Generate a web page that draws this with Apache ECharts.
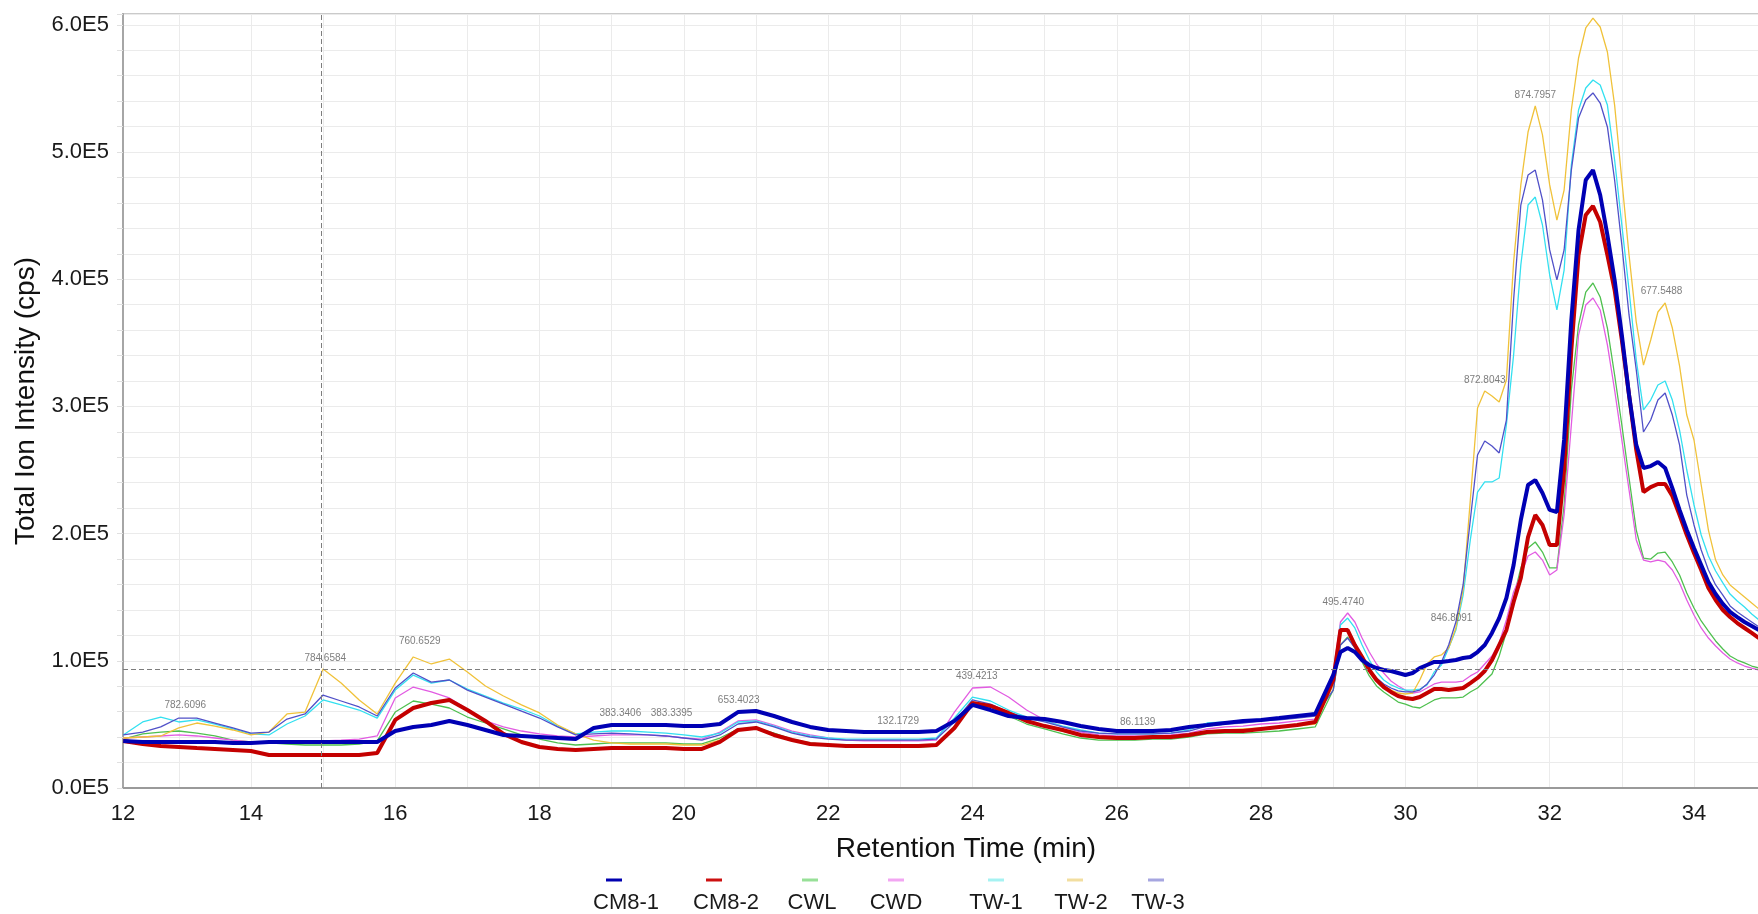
<!DOCTYPE html>
<html>
<head>
<meta charset="utf-8">
<title>Total Ion Chromatogram</title>
<script src="https://cdn.jsdelivr.net/npm/echarts@6.0.0/dist/echarts.min.js"></script>
<style>
  html, body { margin: 0; padding: 0; background: #ffffff; }
  #chart { width: 1758px; height: 914px; }
</style>
</head>
<body>
<div id="chart"></div>
<script>
// Retention time sampling points (min)
const rt = [
  12.23, 12.5, 12.75, 13, 13.25, 13.5, 13.75, 14, 14.25, 14.5, 14.75, 15, 15.25, 15.5, 15.75,
  16, 16.25, 16.5, 16.75, 17, 17.25, 17.5, 17.75, 18, 18.25, 18.5, 18.75, 19, 19.25, 19.5, 19.75,
  20, 20.25, 20.5, 20.75, 21, 21.25, 21.5, 21.75, 22, 22.25, 22.5, 22.75, 23, 23.25, 23.5, 23.75,
  24, 24.25, 24.5, 24.75, 25, 25.25, 25.5, 25.75, 26, 26.25, 26.5, 26.75, 27, 27.25, 27.5, 27.75,
  28, 28.25, 28.5, 28.75, 29,
  29.1, 29.2, 29.3, 29.4, 29.5, 29.6, 29.7, 29.8, 29.9,
  30, 30.1, 30.2, 30.3, 30.4, 30.5, 30.6, 30.7, 30.8, 30.9,
  31, 31.1, 31.2, 31.3, 31.4, 31.5, 31.6, 31.7, 31.8, 31.9,
  32, 32.1, 32.2, 32.3, 32.4, 32.5, 32.6, 32.7, 32.8, 32.9,
  33, 33.1, 33.2, 33.3, 33.4, 33.5, 33.6, 33.7, 33.8, 33.9,
  34, 34.1, 34.2, 34.3, 34.4, 34.5, 34.6, 34.7, 34.8, 34.9
];

// Total ion intensity (cps) per sample
const cm81 = [
  37000, 36200, 36200, 36200, 36200, 36200, 35400, 35400, 36200, 36200, 36200, 36200, 36200, 36200, 36200,
  44800, 48000, 49500, 52700, 49500, 45600, 41700, 40900, 40100, 39300, 38500, 47200, 49500, 49500, 49500, 49500,
  48700, 48700, 50300, 59700, 60500, 56600, 51900, 48000, 45600, 44800, 44000, 44000, 44000, 44000, 44800, 52700,
  65300, 61300, 56600, 55000, 54200, 51900, 48700, 46400, 44800, 44800, 44800, 45600, 48000, 49500, 51100, 52700,
  53500, 55000, 56600, 58200, 88800,
  106900, 110100, 106900, 100600, 96700, 94300, 92800, 92000, 90400,
  88800, 90400, 94300, 96700, 99100, 99100, 99800, 100600, 102200, 103000,
  106900, 112400, 121900, 133600, 149400, 175300, 210700, 238200, 242100, 231900,
  218600, 217000, 273600, 367900, 438700, 478000, 485800, 466200, 434700, 399400,
  356100, 309000, 269700, 251600, 253100, 256300, 251600, 235800, 218600, 202800,
  188700, 175300, 162000, 152500, 144700, 138400, 134400, 130500, 127400, 124200
];
const cm82 = [
  37000, 34600, 33000, 32200, 31400, 30700, 29900, 29100, 25900, 25900, 25900, 25900, 25900, 25900, 27500,
  53500, 62900, 66800, 69200, 61300, 52700, 42500, 36200, 32200, 30700, 29900, 30700, 31400, 31400, 31400, 31400,
  30700, 30700, 36200, 45600, 47200, 41700, 37700, 34600, 33800, 33000, 33000, 33000, 33000, 33000, 33800, 47200,
  66800, 64500, 59000, 52700, 48700, 45600, 41700, 40100, 39300, 39300, 40100, 40100, 41700, 44000, 44800, 44800,
  46400, 48000, 49500, 51900, 84900,
  124200, 124200, 112400, 103000, 92800, 84900, 79400, 75500, 72300,
  70800, 70000, 71500, 74700, 77800, 77800, 77000, 77800, 78600, 82500,
  86500, 92000, 100600, 112400, 124200, 146200, 165100, 197300, 214600, 206800,
  191000, 191000, 250000, 344300, 419000, 450500, 457500, 445000, 419000, 391500,
  352200, 309000, 265700, 232700, 236600, 239000, 239000, 229600, 214600, 198900,
  184700, 171400, 157200, 147800, 139900, 134400, 129700, 125800, 121900, 117900
];
const cwl = [
  38500, 42500, 44000, 44800, 43200, 40900, 37700, 36200, 35400, 34600, 33800, 33800, 33800, 34600, 37000,
  59700, 68400, 66000, 62900, 55800, 51100, 46400, 41700, 38500, 35400, 33800, 34600, 35400, 35400, 35400, 35400,
  34600, 34600, 39300, 46400, 47200, 43200, 38500, 35400, 33800, 33000, 32200, 32200, 32200, 32200, 33000, 47200,
  66800, 63700, 56600, 50300, 46400, 42500, 39300, 37700, 37700, 37700, 38500, 38500, 40100, 42500, 43200, 43200,
  44000, 44800, 46400, 48000, 77000,
  112400, 118700, 110100, 99100, 88100, 80200, 75500, 71500, 67600,
  66000, 63700, 62900, 66000, 69200, 70800, 70800, 70800, 71500, 75500,
  78600, 84100, 89600, 103800, 122600, 149400, 173000, 188700, 193400, 185500,
  173000, 173000, 222500, 312900, 364000, 389900, 397000, 386000, 361600, 324700,
  285400, 243700, 202800, 180800, 180000, 184700, 185500, 177700, 167500, 153300,
  141500, 131300, 123400, 115600, 109300, 103800, 100600, 98300, 95900, 94300
];
const cwd = [
  39300, 40100, 40900, 41700, 40900, 39300, 37700, 36200, 36200, 36200, 37000, 37000, 37700, 38500, 40900,
  70800, 79400, 75500, 70800, 62100, 52700, 48000, 44800, 42500, 40900, 40100, 40900, 41700, 41700, 41700, 40900,
  39300, 38500, 44000, 52700, 53500, 49500, 44800, 41700, 39300, 37700, 37000, 37000, 37000, 37000, 37700, 59700,
  78600, 79400, 71500, 61300, 53500, 48000, 44000, 41700, 40900, 40900, 40900, 41700, 43200, 46400, 48000, 48700,
  50300, 51100, 52700, 54200, 91200,
  130500, 137600, 130500, 117900, 106900, 97500, 90400, 84100, 80200,
  77000, 74700, 75500, 78600, 81800, 83300, 83300, 83300, 84100, 88100,
  91200, 97500, 103800, 114000, 132100, 154100, 167500, 182400, 185500, 179200,
  167500, 171400, 214600, 285400, 356100, 379700, 385200, 375800, 348300, 312900,
  273600, 234300, 195000, 179200, 177700, 179200, 177700, 171400, 161200, 147800,
  136000, 125800, 117900, 111600, 106100, 101400, 98300, 95900, 94300, 92800
];
const tw1 = [
  41700, 51900, 55800, 51900, 53500, 50300, 46400, 42500, 41700, 50300, 56600, 69200, 65300, 61300, 55000,
  77000, 88800, 82500, 84900, 77800, 72300, 66800, 62100, 56600, 48700, 42500, 44000, 44800, 44800, 44000, 43200,
  41700, 40100, 43200, 51900, 52700, 48700, 44000, 40900, 39300, 38500, 38500, 38500, 38500, 38500, 39300, 55000,
  71500, 68400, 61300, 55800, 52700, 48700, 45600, 43200, 42500, 42500, 42500, 43200, 45600, 51100, 51900, 52700,
  54200, 55000, 56600, 59000, 84900,
  128100, 133600, 125800, 112400, 100600, 91200, 84900, 81000, 78600,
  77000, 77000, 77800, 81000, 91200, 96700, 110100, 124200, 151700, 195000,
  232700, 240600, 240600, 243700, 285400, 340400, 411200, 458300, 464600, 442600,
  403300, 375800, 407200, 489800, 533000, 550300, 556600, 552700, 536900, 493700,
  442600, 391500, 336500, 297200, 305000, 316800, 320000, 305000, 281400, 250000,
  222500, 198900, 182400, 170600, 161200, 152500, 147000, 142300, 136800, 132100
];
const tw2 = [
  39300, 40100, 40900, 47200, 51100, 48700, 45600, 41700, 44000, 58200, 59700, 93600, 82500, 69200, 58200,
  82500, 103000, 97500, 101400, 91200, 80200, 72300, 65300, 59000, 49500, 42500, 37700, 35400, 34600, 34600, 34600,
  33800, 33800, 37700, 45600, 46400, 41700, 37700, 34600, 33800, 33000, 33000, 33000, 33000, 33000, 33800, 48000,
  66800, 64500, 58200, 52700, 48700, 44800, 40900, 39300, 38500, 38500, 39300, 40100, 42500, 44800, 45600, 46400,
  47200, 48000, 48700, 50300, 81000,
  122600, 124200, 112400, 102200, 92800, 85700, 80200, 77000, 74700,
  73900, 74700, 84900, 97500, 103000, 104600, 110100, 125800, 155700, 226400,
  298700, 312100, 308200, 303500, 320800, 413500, 474100, 515700, 536200, 513400,
  474100, 446500, 470100, 533000, 573900, 597500, 605300, 598300, 578600, 536900,
  478000, 419000, 366300, 332500, 352200, 374200, 381300, 361600, 331800, 293200,
  273600, 238200, 202800, 179200, 167500, 159600, 154900, 150200, 145400, 140700
];
const tw3 = [
  41700, 44000, 48000, 55000, 55000, 51100, 47200, 43200, 44000, 54200, 58200, 73100, 68400, 63700, 56600,
  78600, 90400, 83300, 84900, 77000, 71500, 66000, 60500, 55000, 48000, 41700, 42500, 43200, 42500, 41700, 40900,
  39300, 37700, 41700, 50300, 51900, 48000, 43200, 40100, 38500, 37700, 37700, 37700, 37700, 37700, 38500, 51900,
  69200, 66000, 59700, 55000, 51900, 48000, 44800, 43200, 42500, 42500, 42500, 43200, 44800, 48700, 50300, 51100,
  52700, 53500, 55000, 56600, 77000,
  112400, 117900, 110100, 100600, 92800, 86500, 81800, 78600, 76300,
  75500, 75500, 77000, 81800, 88800, 99100, 112400, 130500, 159600, 210700,
  261800, 272800, 268900, 263400, 289300, 383600, 458300, 481900, 485800, 462300,
  423000, 399400, 423000, 485800, 526700, 540900, 546400, 538500, 519700, 478000,
  426900, 371900, 328600, 279900, 289300, 305000, 310500, 293200, 269700, 230300,
  206800, 187100, 171400, 159600, 151700, 143100, 138400, 134400, 130500, 126600
];

// Annotated peaks: retention time, label anchor intensity, m/z text
const peakRt  = [13.09, 15.03, 16.34, 19.12, 19.83, 20.76, 22.97, 24.06, 26.29, 29.14, 30.64, 31.10, 31.80, 33.55];
const peakInt = [64700, 102200, 115000, 59000, 59000, 69200, 52700, 87500, 51900, 145700, 133400, 320800, 544300, 390700];
const peakMz  = ['782.6096', '784.6584', '760.6529', '383.3406', '383.3395', '653.4023', '132.1729',
                 '439.4213', '86.1139', '495.4740', '846.8091', '872.8043', '874.7957', '677.5488'];

// Cursor cross-hair position
const cursorRt = 14.98;
const cursorLevel = 93500;

// Axis ranges and tick labels
const xMin = 12.227, xMax = 35.594;
const yMax = 608500;
const xLabelValues = [xMin, 14, 16, 18, 20, 22, 24, 26, 28, 30, 32, 34];
const xGridValues = [13, 14, 15, 16, 17, 18, 19, 20, 21, 22, 23, 24, 25, 26, 27, 28, 29, 30, 31, 32, 33, 34, 35];
const yLabelValues = [0, 100000, 200000, 300000, 400000, 500000, 600000];

const FONT = "'Liberation Sans', Arial, sans-serif";

// Drawing order: thin traces first, the two CM8 traces on top
const traces = [
  { name: 'CWL',   values: cwl,  color: '#4fc04f', width: 1.3 },
  { name: 'CWD',   values: cwd,  color: '#e25ce2', width: 1.3 },
  { name: 'TW-1',  values: tw1,  color: '#33e0f0', width: 1.3 },
  { name: 'TW-2',  values: tw2,  color: '#f0c23a', width: 1.3 },
  { name: 'TW-3',  values: tw3,  color: '#5050c8', width: 1.3 },
  { name: 'CM8-2', values: cm82, color: '#c40000', width: 4 },
  { name: 'CM8-1', values: cm81, color: '#0000b4', width: 4 }
];

// Legend order and swatch look (swatch sits above the name)
const legendOrder = ['CM8-1', 'CM8-2', 'CWL', 'CWD', 'TW-1', 'TW-2', 'TW-3'];
const legendSwatch = ['#0000b0', '#cc1010', '#98e098', '#f2a6f2', '#a6f2f2', '#f2dea0', '#a6a6e0'];
const legendCenterX = [625, 725, 811, 895, 995, 1080, 1157];
const legendSwatchShift = [12, 12, 2, 0, 0, 6, 2];

const chart = echarts.init(document.getElementById('chart'), null, { renderer: 'canvas' });

const series = traces.map(t => ({
  type: 'line',
  name: t.name,
  data: rt.map((x, i) => [x, t.values[i]]),
  showSymbol: false,
  symbol: 'none',
  lineStyle: { color: t.color, width: t.width },
  itemStyle: { color: t.color },
  emphasis: { disabled: true },
  animation: false
}));

// dashed cursor lines
series[series.length - 1].markLine = {
  silent: true,
  symbol: 'none',
  label: { show: false },
  lineStyle: { type: [5, 3], color: '#7d7d7d', width: 1 },
  data: [{ xAxis: cursorRt }, { yAxis: cursorLevel }]
};

// peak m/z annotations
series.push({
  type: 'scatter',
  name: 'peaks',
  data: peakMz.map((m, i) => ({ name: m, value: [peakRt[i], peakInt[i]] })),
  symbolSize: 0,
  silent: true,
  z: 5,
  label: {
    show: true,
    position: 'inside',
    formatter: '{b}',
    fontSize: 10,
    fontFamily: FONT,
    color: '#5c5c5c'
  }
});

const legends = legendOrder.map((name, i) => {
  const rich = {
    tx: { fontSize: 22, fontFamily: FONT, color: '#1a1a1a', lineHeight: 34, width: 80, align: 'center' }
  };
  rich['ic' + i] = { width: 16, height: 3, backgroundColor: legendSwatch[i], lineHeight: 12, align: 'center' };
  rich['sp' + i] = { width: legendSwatchShift[i] * 2, height: 3, lineHeight: 12, align: 'center' };
  return {
    data: [name],
    left: legendCenterX[i] - 45,
    top: 874,
    padding: 0,
    itemWidth: 0,
    itemHeight: 0,
    itemGap: 0,
    formatter: n => `{ic${i}|}{sp${i}|}\n{tx|${n}}`,
    textStyle: { rich: rich }
  };
});

chart.setOption({
  backgroundColor: '#ffffff',
  animation: false,
  legend: legends,
  grid: {
    left: 123, right: -51, top: 14, bottom: 126,
    show: true, borderColor: '#cacaca', borderWidth: 2,
    containLabel: false, outerBoundsMode: 'none'
  },
  xAxis: {
    type: 'value', min: xMin, max: xMax,
    name: 'Retention Time (min)', nameLocation: 'middle', nameGap: 47,
    nameTextStyle: { fontSize: 28, color: '#111111', fontFamily: FONT },
    axisLine: { show: true, onZero: false, lineStyle: { color: '#9a9a9a', width: 2 } },
    axisTick: { show: false, customValues: xGridValues },
    axisLabel: {
      customValues: xLabelValues,
      formatter: v => String(Math.round(v)),
      fontSize: 22, color: '#1a1a1a', margin: 15, fontFamily: FONT
    },
    splitLine: { show: true, lineStyle: { color: '#ebebeb', width: 1 } }
  },
  yAxis: {
    type: 'value', min: 0, max: yMax, interval: 20000,
    name: 'Total Ion Intensity (cps)', nameLocation: 'middle', nameGap: 79, nameRotate: 90,
    nameTextStyle: { fontSize: 28, color: '#111111', fontFamily: FONT },
    axisLine: { show: true, lineStyle: { color: '#a6a6a6', width: 2 } },
    axisTick: { show: true, length: 6, lineStyle: { color: '#e0e0e0' } },
    axisLabel: {
      customValues: yLabelValues,
      formatter: v => (v / 1e5).toFixed(1) + 'E5',
      fontSize: 22, color: '#1a1a1a', margin: 14, fontFamily: FONT
    },
    splitLine: { show: true, lineStyle: { color: '#ebebeb', width: 1 } }
  },
  series: series
});
</script>
</body>
</html>
